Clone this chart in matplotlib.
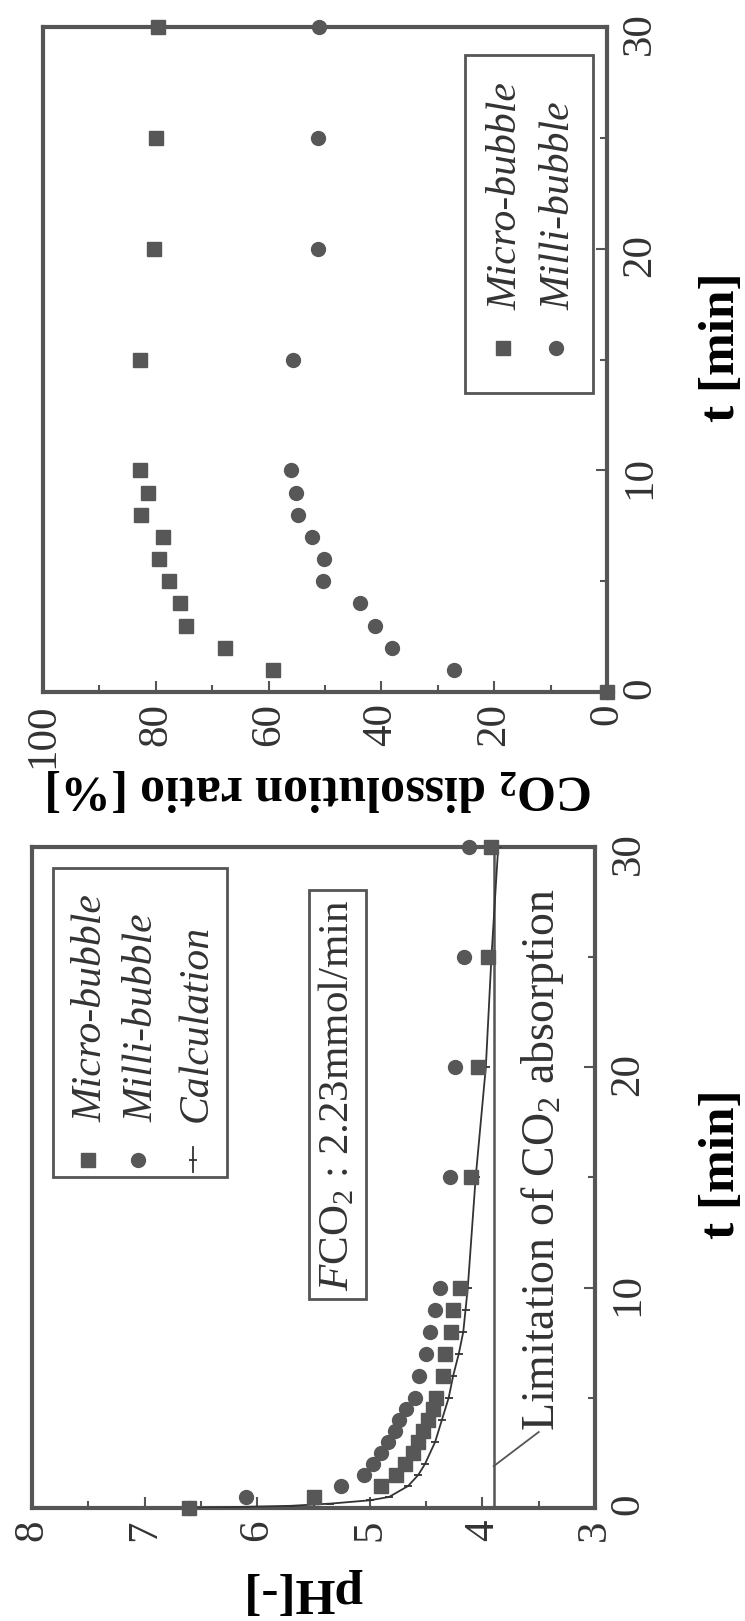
import matplotlib.pyplot as plt
from matplotlib.patches import Rectangle
from matplotlib.ticker import MultipleLocator

plt.rcParams.update({
    'font.family': 'serif',
    'font.serif': ['Liberation Serif', 'DejaVu Serif'],
    'mathtext.fontset': 'custom',
    'mathtext.rm': 'Liberation Serif',
    'mathtext.it': 'Liberation Serif:italic',
    'mathtext.bf': 'Liberation Serif:bold',
    'text.color': '#333333',
    'xtick.color': '#555555',
    'ytick.color': '#555555',
    'xtick.labelcolor': '#333333',
    'ytick.labelcolor': '#333333',
})

# pH panel data (t [min] -> pH)
t_ph = [0, 0.5, 1, 1.5, 2, 2.5, 3, 3.5, 4, 4.5, 5, 6, 7, 8, 9, 10, 15, 20, 25, 30]
ph_micro = [6.61, 5.50, 4.90, 4.77, 4.69, 4.62, 4.57, 4.53, 4.48, 4.44, 4.41,
            4.35, 4.33, 4.28, 4.26, 4.20, 4.10, 4.04, 3.95, 3.92]
ph_milli = [6.61, 6.10, 5.26, 5.05, 4.97, 4.90, 4.84, 4.78, 4.74, 4.68, 4.60,
            4.56, 4.50, 4.47, 4.42, 4.38, 4.29, 4.24, 4.16, 4.12]
t_calc = [0, 0.1, 0.2, 0.35, 0.5, 1, 1.5, 2, 3, 4, 5, 6, 7, 8, 9, 10, 15, 20, 25, 30]
ph_calc = [6.6, 5.7, 5.35, 5.0, 4.83, 4.66, 4.57, 4.51, 4.42, 4.36, 4.30, 4.26,
           4.21, 4.17, 4.15, 4.13, 4.06, 3.97, 3.92, 3.86]
ph_limit = 3.9

# CO2 dissolution ratio panel data
t_co2 = [0, 1, 2, 3, 4, 5, 6, 7, 8, 9, 10, 15, 20, 25, 30]
co2_micro = [0, 59.3, 67.7, 74.6, 75.7, 77.7, 79.4, 78.7, 82.6, 81.4, 82.8,
             82.8, 80.3, 80.0, 79.6]
co2_milli = [0, 27.1, 38.2, 41.2, 43.7, 50.3, 50.2, 52.3, 54.8, 55.1, 56.1,
             55.7, 51.3, 51.3, 51.1]

gray = '#575757'
frame = '#555555'

fig = plt.figure(figsize=(7.45, 16.21), dpi=100)
ax1 = fig.add_axes([0.043, 0.0697, 0.7557, 0.4078])
ax2 = fig.add_axes([0.0577, 0.5731, 0.757, 0.4102])


def style_axes(ax, xmin, xmax, xmajor, xminor):
    ax.set_xlim(xmin, xmax)
    ax.set_ylim(0, 30)
    ax.xaxis.set_major_locator(MultipleLocator(xmajor))
    ax.xaxis.set_minor_locator(MultipleLocator(xminor))
    ax.yaxis.set_major_locator(MultipleLocator(10))
    ax.yaxis.set_minor_locator(MultipleLocator(5))
    ax.yaxis.tick_right()
    ax.yaxis.set_label_position('right')
    ax.tick_params(which='both', direction='in', top=False, left=False,
                   width=1.5)
    ax.tick_params(which='major', length=8)
    ax.tick_params(which='minor', length=5)
    ax.tick_params(axis='x', labelrotation=90, pad=8, labelsize=31)
    ax.tick_params(axis='y', labelrotation=90, pad=10, labelsize=31)
    for s in ax.spines.values():
        s.set_linewidth(3)
        s.set_color(frame)


# ---- pH panel ----
style_axes(ax1, 8, 3, 1, 0.5)
ax1.axvline(ph_limit, color=frame, lw=1.8, zorder=2)
ax1.plot(ph_calc, t_calc, '-', color='#333333', lw=1.3, marker='_', ms=6,
         mew=1.3, zorder=3)
ax1.plot(ph_micro, t_ph, 's', ms=10, color=gray, clip_on=False, zorder=4)
ax1.plot(ph_milli, t_ph, 'o', ms=10, color=gray, clip_on=False, zorder=4)

ax1.set_xlabel('pH[-]', rotation=180, fontsize=37, fontweight='bold')
ax1.xaxis.set_label_coords(0.481, -0.1256)
ax1.xaxis.label.set_va('center')
ax1.set_ylabel('t [min]', rotation=90, fontsize=37, fontweight='bold')
ax1.yaxis.set_label_coords(1.2256, 0.52)
ax1.yaxis.label.set_va('center')
ax1.yaxis.label.set_ha('center')

# legend drawn by hand (rotated)
ax1.add_patch(Rectangle((0.037, 0.50), 0.309, 0.468, transform=ax1.transAxes,
                        fill=False, ec=frame, lw=2, zorder=5))
ax1.plot([0.0995], [0.526], 's', ms=10, color=gray, transform=ax1.transAxes)
ax1.plot([0.188], [0.526], 'o', ms=10, color=gray, transform=ax1.transAxes)
ax1.plot([0.286, 0.286], [0.508, 0.546], '-', color='#333333', lw=1.3,
         transform=ax1.transAxes)
ax1.plot([0.286], [0.527], '_', ms=6, mew=1.3, color='#333333',
         transform=ax1.transAxes)
for xx, lab in [(0.106, 'Micro-bubble'), (0.195, 'Milli-bubble'),
                (0.292, 'Calculation')]:
    ax1.text(xx, 0.584, lab, transform=ax1.transAxes, rotation=90,
             ha='center', va='bottom', fontsize=30, style='italic')

ax1.text(5.29, 18.75, r'$F$CO$_2$ : 2.23mmol/min', rotation=90, ha='center',
         va='center', fontsize=31,
         bbox=dict(boxstyle='square,pad=0.2', fc='white', ec=frame, lw=2))

# limitation label with leader line
ax1.plot([ph_limit, 3.5], [1.9, 3.45], '-', color=frame, lw=1.3, zorder=3)
ax1.text(3.47, 3.5, r'Limitation of CO$_2$ absorption', rotation=90,
         ha='center', va='bottom', fontsize=33)

# ---- CO2 dissolution ratio panel ----
style_axes(ax2, 100, 0, 20, 10)
ax2.plot(co2_micro, t_co2, 's', ms=10, color=gray, clip_on=False, zorder=4)
ax2.plot(co2_milli, t_co2, 'o', ms=10, color=gray, clip_on=False, zorder=4)

ax2.set_xlabel(r'CO$_\mathbf{2}$ dissolution ratio [%]', rotation=180,
               fontsize=36, fontweight='bold')
ax2.xaxis.set_label_coords(0.491, -0.144)
ax2.xaxis.label.set_va('center')
ax2.set_ylabel('t [min]', rotation=90, fontsize=37, fontweight='bold')
ax2.yaxis.set_label_coords(1.204, 0.519)
ax2.yaxis.label.set_va('center')
ax2.yaxis.label.set_ha('center')

ax2.add_patch(Rectangle((0.748, 0.45), 0.227, 0.508, transform=ax2.transAxes,
                        fill=False, ec=frame, lw=2, zorder=5))
ax2.plot([0.816], [0.517], 's', ms=10, color=gray, transform=ax2.transAxes)
ax2.plot([0.910], [0.517], 'o', ms=10, color=gray, transform=ax2.transAxes)
for xx, lab in [(0.822, 'Micro-bubble'), (0.916, 'Milli-bubble')]:
    ax2.text(xx, 0.574, lab, transform=ax2.transAxes, rotation=90,
             ha='center', va='bottom', fontsize=30, style='italic')

fig.savefig('out.png', dpi=100, facecolor='white')
